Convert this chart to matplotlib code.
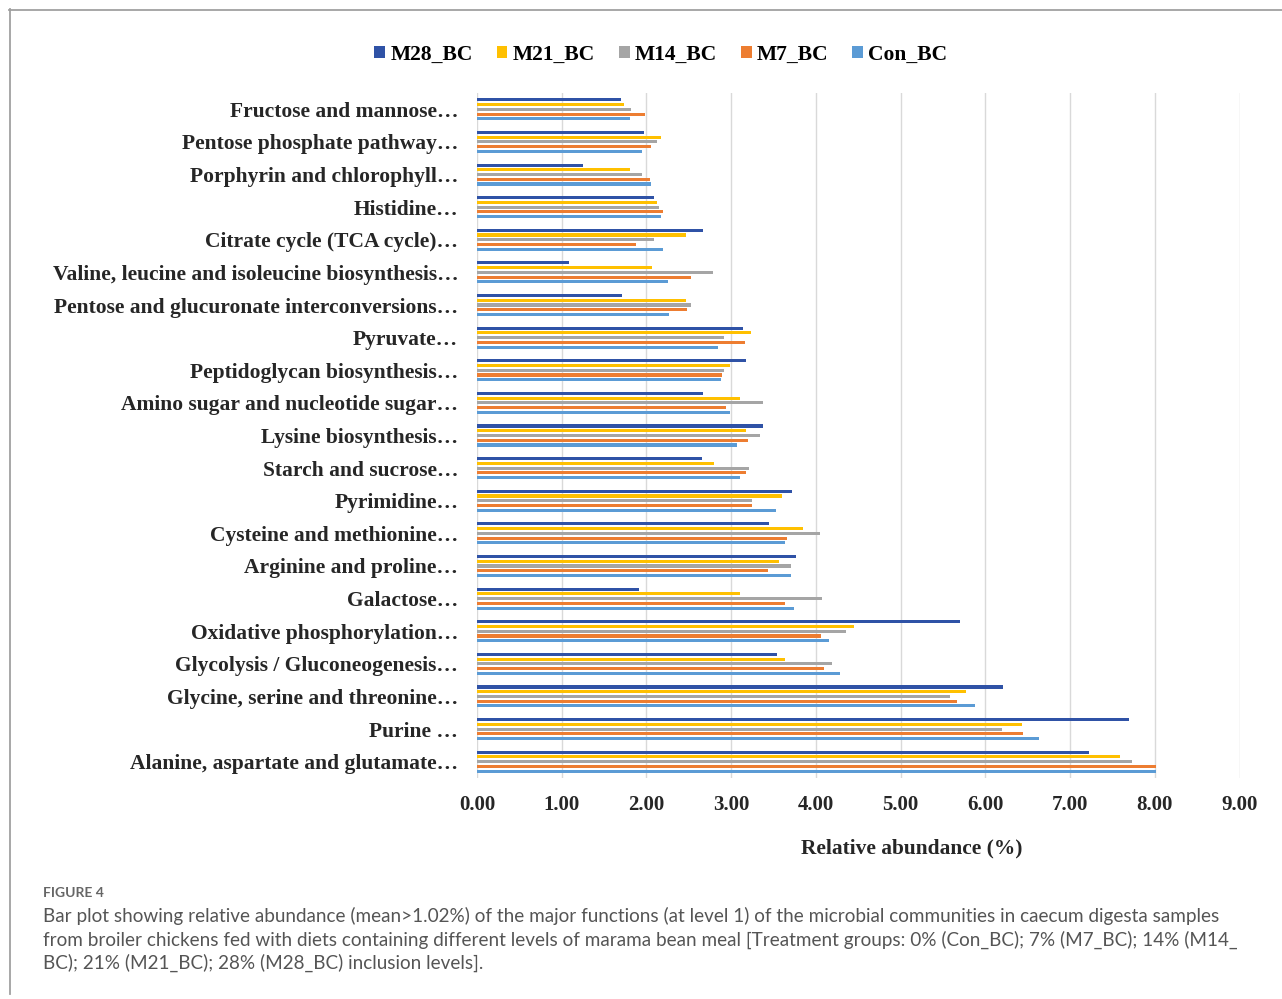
import numpy as np
import matplotlib.pyplot as plt
from matplotlib.lines import Line2D

# Категорії (зверху вниз, як на рисунку)
categories = [
    "Fructose and mannose…",
    "Pentose phosphate pathway…",
    "Porphyrin and chlorophyll…",
    "Histidine…",
    "Citrate cycle (TCA cycle)…",
    "Valine, leucine and isoleucine biosynthesis…",
    "Pentose and glucuronate interconversions…",
    "Pyruvate…",
    "Peptidoglycan biosynthesis…",
    "Amino sugar and nucleotide sugar…",
    "Lysine biosynthesis…",
    "Starch and sucrose…",
    "Pyrimidine…",
    "Cysteine and methionine…",
    "Arginine and proline…",
    "Galactose…",
    "Oxidative phosphorylation…",
    "Glycolysis / Gluconeogenesis…",
    "Glycine, serine and threonine…",
    "Purine …",
    "Alanine, aspartate and glutamate…",
]

# Відносна чисельність (%) для кожної групи
m28 = [1.70, 1.97, 1.25, 2.09, 2.67, 1.09, 1.71, 3.14, 3.17, 2.67, 3.37,
       2.66, 3.72, 3.45, 3.77, 1.91, 5.70, 3.54, 6.21, 7.69, 7.22]
m21 = [1.73, 2.17, 1.81, 2.13, 2.47, 2.06, 2.47, 3.23, 2.99, 3.10, 3.17,
       2.80, 3.60, 3.85, 3.56, 3.11, 4.45, 3.63, 5.77, 6.43, 7.59]
m14 = [1.82, 2.13, 1.95, 2.15, 2.09, 2.78, 2.53, 2.91, 2.91, 3.37, 3.34,
       3.21, 3.25, 4.05, 3.71, 4.07, 4.35, 4.19, 5.58, 6.20, 7.73]
m7 = [1.98, 2.05, 2.04, 2.19, 1.88, 2.52, 2.48, 3.16, 2.89, 2.94, 3.20,
      3.17, 3.24, 3.66, 3.44, 3.64, 4.06, 4.10, 5.67, 6.45, 8.02]
con = [1.81, 1.95, 2.05, 2.17, 2.19, 2.25, 2.27, 2.85, 2.88, 2.99, 3.07,
       3.10, 3.53, 3.64, 3.71, 3.74, 4.15, 4.28, 5.88, 6.63, 8.02]

series = [("M28_BC", m28, "#2F52A6"),
          ("M21_BC", m21, "#FFC000"),
          ("M14_BC", m14, "#A5A5A5"),
          ("M7_BC", m7, "#ED7D31"),
          ("Con_BC", con, "#5B9BD5")]

serif = "Liberation Serif"
W, H = 1282, 999
fig = plt.figure(figsize=(W / 100, H / 100), dpi=100)
ax = fig.add_axes([477 / W, 1 - 778 / H, (1239.5 - 477) / W, (778 - 93) / H])

n = len(categories)
y = np.arange(n)[::-1]
step = 0.1455
bar_h = 0.095

for k, (name, vals, col) in enumerate(series):
    offs = (2 - k) * step
    ax.barh(y + offs, vals, height=bar_h, color=col, label=name, zorder=3)

ax.set_xlim(0, 9)
ax.set_ylim(-0.5, n - 0.5)
ax.set_xticks(np.arange(0, 10, 1))
ax.set_xticklabels([f"{v:.2f}" for v in np.arange(0, 10, 1)])
ax.set_yticks(y)
ax.set_yticklabels(categories)
ax.tick_params(axis="both", length=0)
ax.tick_params(axis="x", pad=12)
ax.tick_params(axis="y", pad=13.5)
for lab in ax.get_xticklabels():
    lab.set_fontsize(15)
for lab in ax.get_yticklabels():
    lab.set_fontsize(15.5)
for lab in ax.get_xticklabels() + ax.get_yticklabels():
    lab.set_fontfamily(serif)
    lab.set_fontweight("bold")
    lab.set_color("#262626")

ax.grid(axis="x", color="#D9D9D9", linewidth=1, zorder=0)
for s in ax.spines.values():
    s.set_visible(False)

# Легенда
handles, labels = ax.get_legend_handles_labels()
fig.legend(handles, labels, loc="center", ncol=5,
           bbox_to_anchor=(661 / W, 1 - 55 / H), frameon=False,
           handlelength=0.5, handleheight=0.5, handletextpad=0.25,
           columnspacing=1.1,
           prop={"family": serif, "weight": "bold", "size": 15.5})

fig.text(912 / W, 1 - 848 / H, "Relative abundance (%)", family=serif,
         weight="bold", fontsize=15.4, color="#262626", ha="center", va="center")

# Рамка
fig.add_artist(Line2D([9 / W, 1], [1 - 9.5 / H, 1 - 9.5 / H], transform=fig.transFigure,
                      color="#A0A0A0", linewidth=1.3))
fig.add_artist(Line2D([9.5 / W, 9.5 / W], [1 - 9 / H, 1 - 994 / H], transform=fig.transFigure,
                      color="#A0A0A0", linewidth=1.3))

# Підпис
cap_col = "#555555"
fig.text(43 / W, 1 - 893 / H, "FIGURE 4", family="Lato", weight="bold",
         fontsize=10, color="#666666", va="center")
caption = [
    "Bar plot showing relative abundance (mean>1.02%) of the major functions (at level 1) of the microbial communities in caecum digesta samples",
    "from broiler chickens fed with diets containing different levels of marama bean meal [Treatment groups: 0% (Con_BC); 7% (M7_BC); 14% (M14_",
    "BC); 21% (M21_BC); 28% (M28_BC) inclusion levels].",
]
for i, line in enumerate(caption):
    fig.text(43 / W, 1 - (916 + 23.5 * i) / H, line, family="Lato",
             fontsize=13.6, color=cap_col, va="center")

fig.savefig("out.png", dpi=100)
